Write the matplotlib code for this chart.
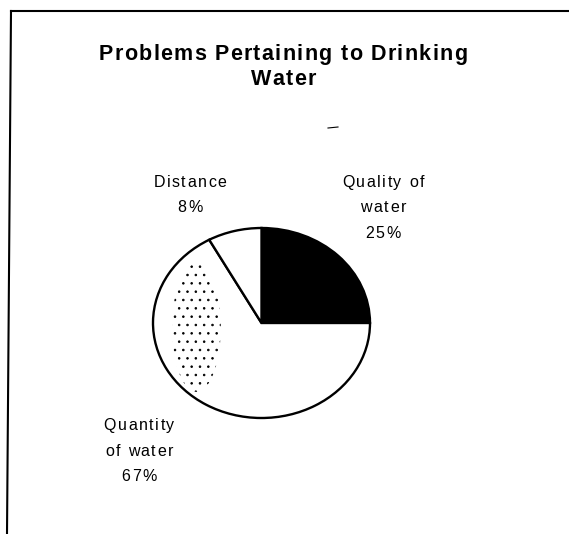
import matplotlib
matplotlib.use("Agg")
import matplotlib.pyplot as plt
from matplotlib.lines import Line2D
from matplotlib.patches import Ellipse
from matplotlib.font_manager import FontProperties, findfont
from matplotlib.ft2font import FT2Font

# slices, clockwise from 12 o'clock
categories = ["Quality of\nwater", "Quantity\nof water", "Distance"]
shares = [25, 67, 8]
colours = ["black", "white", "white"]

title = "Problems Pertaining to Drinking\nWater"

W, H = 569, 534
DPI = 100
plt.rcParams['font.family'] = ['Liberation Sans', 'DejaVu Sans']
plt.rcParams['hatch.linewidth'] = 0.6
HF = plt.rcParams['text.hinting_factor']

fig = plt.figure(figsize=(W / DPI, H / DPI), dpi=DPI)


def fx(px):
    return px / W


def fy(py):
    return 1 - py / H


def spaced_text(x, y, s, size, weight='normal', track=0.0, step=26):
    """Write s centred on x with its first baseline at y (pixels from the top),
    one glyph at a time so the letters can be spread apart by `track` px."""
    prop = FontProperties(family='Liberation Sans', weight=weight, size=size)
    font = FT2Font(findfont(prop), hinting_factor=HF)
    font.set_size(size, DPI)
    for i, line in enumerate(s.split("\n")):
        adv = [font.load_char(ord(c)).horiAdvance / 64 / HF + track for c in line]
        pos = x - (sum(adv) - track) / 2
        for c, a in zip(line, adv):
            if c != " ":
                fig.text(fx(pos), fy(y + i * step), c, fontproperties=prop,
                         ha='left', va='baseline')
            pos += a


# page frame: only the top and left edges are there
fig.add_artist(Line2D([fx(11), 1], [fy(11), fy(11)], color='black', lw=1.5))
fig.add_artist(Line2D([fx(11), fx(7)], [fy(11), 0], color='black', lw=1.5))
# small stray mark above the pie
fig.add_artist(Line2D([fx(328), fx(338)], [fy(128), fy(127)], color='black', lw=0.8))

spaced_text(283, 60, title, 15.5, weight='bold', track=1.3, step=25)

# pie is a bit wider than tall
left, right, top, bottom = 153, 370, 228, 418
ax = fig.add_axes([fx(left), fy(bottom), (right - left) / W, (bottom - top) / H])
wedges, _ = ax.pie(shares, colors=colours, startangle=90, counterclock=False,
                   wedgeprops=dict(edgecolor='black', linewidth=1.7))
for w in wedges:
    w.set_clip_on(False)
ax.set_aspect('auto')
ax.set_xlim(-1, 1)
ax.set_ylim(-1, 1)

# speckle on the left side of the quantity slice
speck = Ellipse((-0.6, -0.05), 0.45, 1.35, facecolor='none', edgecolor='black',
                lw=0, hatch='..', zorder=wedges[1].get_zorder() + 0.1)
ax.add_patch(speck)
speck.set_clip_path(wedges[1])

# label anchors: centre x, first baseline y (pixels)
label_pos = [(383, 187), (139, 430), (190, 187)]
for name, v, (x, y) in zip(categories, shares, label_pos):
    spaced_text(x, y, f"{name}\n{v}%", 11.5, track=1.6, step=25.5)

fig.savefig("out.png", dpi=DPI)
